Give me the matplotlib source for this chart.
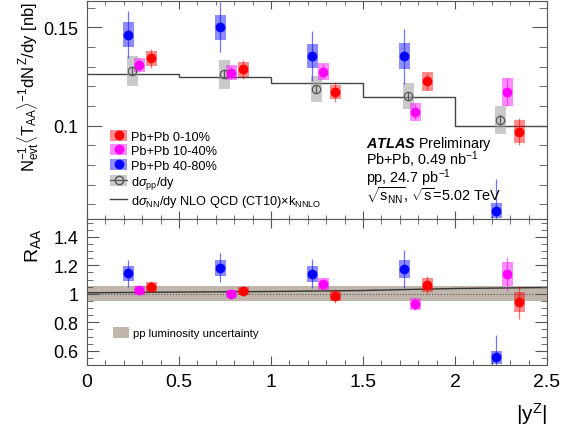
import numpy as np
import matplotlib
matplotlib.use("Agg")
import matplotlib.pyplot as plt
from matplotlib.patches import Patch
from matplotlib.lines import Line2D
from matplotlib.ticker import MultipleLocator, FuncFormatter

plt.rcParams['font.family'] = ['Liberation Sans', 'DejaVu Sans']
plt.rcParams['mathtext.fontset'] = 'custom'
plt.rcParams['mathtext.rm'] = 'Liberation Sans'
plt.rcParams['mathtext.it'] = 'Liberation Sans:italic'
plt.rcParams['mathtext.bf'] = 'Liberation Sans:bold'
plt.rcParams['mathtext.bfit'] = 'Liberation Sans:italic:bold'

# |y| bins
bin_edges = [0.0, 0.5, 1.0, 1.5, 2.0, 2.5]
bin_centers = [0.25, 0.75, 1.25, 1.75, 2.25]

# per-event yields (top panel)
yield_0_10 = [0.1342, 0.1286, 0.1170, 0.1225, 0.0970]
yield_0_10_stat = [0.0050, 0.0050, 0.0050, 0.0045, 0.0068]
yield_0_10_syst = [0.0038, 0.0037, 0.0037, 0.0047, 0.0057]

yield_10_40 = [0.1307, 0.1270, 0.1275, 0.1071, 0.1170]
yield_10_40_stat = [0.0035, 0.0035, 0.0040, 0.0040, 0.0070]
yield_10_40_syst = [0.0036, 0.0036, 0.0044, 0.0045, 0.0072]

yield_40_80 = [0.1463, 0.1500, 0.1356, 0.1353, 0.0568]
yield_40_80_stat = [0.0120, 0.0127, 0.0127, 0.0140, 0.0160]
yield_40_80_syst = [0.0063, 0.0065, 0.0061, 0.0067, 0.0038]

xsec_pp = [0.1278, 0.1261, 0.1186, 0.1149, 0.1029]
xsec_pp_stat = [0.0020, 0.0020, 0.0020, 0.0020, 0.0025]
xsec_pp_syst = [0.0077, 0.0074, 0.0068, 0.0067, 0.0070]

nlo_nn = [0.1261, 0.1247, 0.1215, 0.1144, 0.0997]

# R_AA (bottom panel)
raa_0_10 = [1.049, 1.019, 0.984, 1.061, 0.939]
raa_0_10_stat = [0.040, 0.035, 0.050, 0.064, 0.118]
raa_0_10_syst = [0.035, 0.030, 0.035, 0.047, 0.070]

raa_10_40 = [1.023, 0.998, 1.070, 0.929, 1.139]
raa_10_40_stat = [0.030, 0.030, 0.035, 0.040, 0.118]
raa_10_40_syst = [0.030, 0.030, 0.040, 0.040, 0.086]

raa_40_80 = [1.143, 1.183, 1.141, 1.174, 0.553]
raa_40_80_stat = [0.095, 0.100, 0.100, 0.130, 0.157]
raa_40_80_syst = [0.055, 0.057, 0.055, 0.063, 0.043]

ratio_x = [0.0, 0.5, 1.0, 1.5, 2.0, 2.5]
ratio_nlo = [1.007, 1.012, 1.016, 1.023, 1.037, 1.044]
lumi_unc = 0.054

labels = ["Pb+Pb 0-10%", "Pb+Pb 10-40%", "Pb+Pb 40-80%"]
colors = ["#ff0000", "#ff00ff", "#0000ff"]
shifts = [0.10, 0.035, -0.025]
pp_shift = -0.005
box_w = 0.06

fig = plt.figure(figsize=(5.63, 4.35), dpi=100)
ax1 = fig.add_axes([0.1545, 0.4943, 0.8171, 0.5011])
ax2 = fig.add_axes([0.1545, 0.1586, 0.8171, 0.3357])

spine_col = '#555555'


def draw_points(ax, xs, ys, stat, syst, col, box_alpha=0.45):
    ys = np.array(ys)
    syst = np.array(syst)
    ax.bar(xs, 2 * syst, bottom=ys - syst, width=box_w, color=col,
           alpha=box_alpha, linewidth=0, zorder=2)
    ax.errorbar(xs, ys, yerr=stat, fmt='none', ecolor=col, elinewidth=0.9,
                alpha=0.55, zorder=3)
    ax.plot(xs, ys, 'o', color=col, ms=6, mec=col, zorder=4)


# ---- top panel ----
ax1.stairs(nlo_nn, bin_edges, baseline=None, color='#444444', lw=1.0, zorder=1)

xp = np.array(bin_centers) + pp_shift
ax1.bar(xp, 2 * np.array(xsec_pp_syst), bottom=np.array(xsec_pp) - np.array(xsec_pp_syst),
        width=box_w, color='#a0a0a0', alpha=0.55, linewidth=0, zorder=2)
ax1.errorbar(xp, xsec_pp, yerr=xsec_pp_stat, fmt='none', ecolor='#555555',
             elinewidth=0.9, zorder=3)
ax1.plot(xp, xsec_pp, 'o', mfc='none', mec='#555555', ms=6, mew=0.9, zorder=4)

top_sets = [(yield_0_10, yield_0_10_stat, yield_0_10_syst),
            (yield_10_40, yield_10_40_stat, yield_10_40_syst),
            (yield_40_80, yield_40_80_stat, yield_40_80_syst)]
for (vals, st, sy), col, sh in zip(top_sets, colors, shifts):
    draw_points(ax1, np.array(bin_centers) + sh, vals, st, sy, col)

ax1.set_xlim(0, 2.5)
ax1.set_ylim(0.0525, 0.1634)
ax1.yaxis.set_major_locator(MultipleLocator(0.05))
ax1.yaxis.set_minor_locator(MultipleLocator(0.01))
ax1.xaxis.set_major_locator(MultipleLocator(0.5))
ax1.xaxis.set_minor_locator(MultipleLocator(0.1))
ax1.yaxis.set_major_formatter(FuncFormatter(lambda v, p: '%g' % round(v, 3)))
ax1.tick_params(axis='both', which='both', direction='in', top=True, right=True,
                color=spine_col, labelbottom=False)
ax1.tick_params(axis='y', which='major', length=10.5, labelsize=13, pad=6)
ax1.tick_params(axis='y', which='minor', length=5.5)
ax1.tick_params(axis='x', which='major', length=5.5)
ax1.tick_params(axis='x', which='minor', length=2.8)
ax1.set_ylabel(r"$\mathrm{N_{evt}^{-1}}\langle \mathrm{T_{AA}}\rangle^{-1}"
               r"\mathrm{dN}^{\,\mathrm{Z}}\mathrm{/dy\ [nb]}$",
               fontsize=12, loc='top')
ax1.yaxis.set_label_coords(-0.10, 1.0)

leg_handles = [
    (Patch(facecolor=colors[0], alpha=0.45, lw=0), Line2D([], [], marker='o', color=colors[0], ls='none', ms=6)),
    (Patch(facecolor=colors[1], alpha=0.45, lw=0), Line2D([], [], marker='o', color=colors[1], ls='none', ms=6)),
    (Patch(facecolor=colors[2], alpha=0.45, lw=0), Line2D([], [], marker='o', color=colors[2], ls='none', ms=6)),
    (Patch(facecolor='#a0a0a0', alpha=0.55, lw=0), Line2D([], [], marker='o', mfc='none', mec='#555555', color='#555555', ms=6, lw=0.9)),
    Line2D([], [], color='#444444', lw=1.0),
]
leg_labels = labels + [r"d$\sigma_{\mathrm{pp}}$/dy",
                       r"d$\sigma_{\mathrm{NN}}$/dy NLO QCD (CT10)$\times$k$_{\mathrm{NNLO}}$"]
ax1.legend(leg_handles, leg_labels, loc='upper left', bbox_to_anchor=(0.05, 0.41),
           frameon=False, fontsize=9.2, handlelength=1.35, handleheight=0.95,
           handletextpad=0.3, labelspacing=0.15, borderpad=0, borderaxespad=0)

atlas_lines = [r"$\mathbfit{ATLAS}$ Preliminary",
               r"Pb+Pb, 0.49 nb$^{-1}$",
               r"pp, 24.7 pb$^{-1}$",
               r"$\sqrt{\mathrm{s_{NN}}}$, $\sqrt{\mathrm{s}}$=5.02 TeV"]
ax1.text(0.606, 0.39, "\n".join(atlas_lines), transform=ax1.transAxes,
         fontsize=10.4, va='top', ha='left', linespacing=0.8)

# ---- bottom panel ----
ax2.axhspan(1 - lumi_unc, 1 + lumi_unc, color='#c0b6ab', lw=0, zorder=0)
ax2.axhline(1.0, ls=':', color='#555555', lw=0.8, zorder=1)
ax2.plot(ratio_x, ratio_nlo, color='#333333', lw=1.0, zorder=1)

bot_sets = [(raa_0_10, raa_0_10_stat, raa_0_10_syst),
            (raa_10_40, raa_10_40_stat, raa_10_40_syst),
            (raa_40_80, raa_40_80_stat, raa_40_80_syst)]
for (vals, st, sy), col, sh in zip(bot_sets, colors, shifts):
    draw_points(ax2, np.array(bin_centers) + sh, vals, st, sy, col)

ax2.set_xlim(0, 2.5)
ax2.set_ylim(0.5, 1.525)
ax2.yaxis.set_major_locator(MultipleLocator(0.2))
ax2.yaxis.set_minor_locator(MultipleLocator(0.05))
ax2.xaxis.set_major_locator(MultipleLocator(0.5))
ax2.xaxis.set_minor_locator(MultipleLocator(0.1))
fmt = FuncFormatter(lambda v, p: '%g' % round(v, 3))
ax2.yaxis.set_major_formatter(fmt)
ax2.xaxis.set_major_formatter(fmt)
ax2.tick_params(axis='both', which='both', direction='in', top=True, right=True,
                color=spine_col)
ax2.tick_params(axis='y', which='major', length=8.6, labelsize=13, pad=6)
ax2.tick_params(axis='y', which='minor', length=4.3)
ax2.tick_params(axis='x', which='major', length=6.7, labelsize=14, pad=6)
ax2.tick_params(axis='x', which='minor', length=3.8)
ax2.set_ylabel(r"R$_{\mathrm{AA}}$", fontsize=14, loc='top')
ax2.yaxis.set_label_coords(-0.095, 0.94)
ax2.set_xlabel(r"|y$^{\mathrm{Z}}$|", fontsize=15, loc='right')
ax2.xaxis.set_label_coords(1.0, -0.24)

ax2.legend([Patch(facecolor='#c0b6ab', lw=0)], ["pp luminosity uncertainty"],
           loc='center left', bbox_to_anchor=(0.056, 0.224), frameon=False,
           fontsize=8.2, handlelength=1.4, handleheight=1.1, handletextpad=0.35,
           borderpad=0, borderaxespad=0)

for ax in (ax1, ax2):
    for s in ax.spines.values():
        s.set_color(spine_col)
        s.set_linewidth(0.8)

fig.savefig("out.png", dpi=100)
